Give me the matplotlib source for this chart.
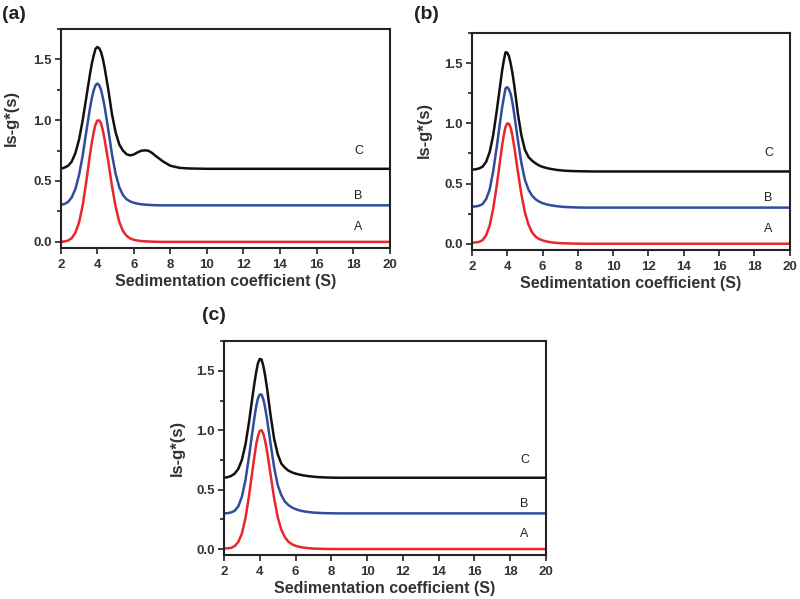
import matplotlib
matplotlib.use('Agg')
import matplotlib.pyplot as plt
from matplotlib.ticker import MultipleLocator

plt.rcParams['font.family'] = ['Liberation Sans', 'DejaVu Sans']

# sedimentation coefficient grid (S)
s = [2.0, 2.2, 2.4, 2.6, 2.8, 3.0, 3.2, 3.4, 3.6, 3.7, 3.8, 3.9, 4.0, 4.1, 4.2, 4.3, 4.4, 4.6, 4.8, 5.0,
     5.2, 5.4, 5.6, 5.8, 6.0, 6.2, 6.4, 6.6, 6.8, 7.0, 7.2, 7.6, 8.0, 8.5, 9.0, 10.0, 20.0]

# panel (a)
a_A = [0.0, 0.004, 0.011, 0.031, 0.076, 0.16, 0.30, 0.50, 0.72, 0.817, 0.90, 0.963, 0.996, 0.997, 0.975, 0.917, 0.84, 0.66, 0.46, 0.29,
       0.165, 0.09, 0.05, 0.028, 0.017, 0.011, 0.007, 0.005, 0.003, 0.002, 0.001, 0.0, 0.0, 0.0, 0.0, 0.0, 0.0]
a_B = [0.305, 0.311, 0.328, 0.366, 0.435, 0.55, 0.71, 0.91, 1.10, 1.182, 1.245, 1.286, 1.30, 1.287, 1.25, 1.185, 1.11, 0.92, 0.72, 0.56,
       0.45, 0.385, 0.35, 0.332, 0.321, 0.314, 0.309, 0.306, 0.304, 0.302, 0.301, 0.30, 0.30, 0.30, 0.30, 0.30, 0.30]
a_C = [0.60, 0.61, 0.625, 0.66, 0.73, 0.84, 1.00, 1.19, 1.38, 1.465, 1.53, 1.585, 1.60, 1.59, 1.56, 1.505, 1.43, 1.25, 1.05, 0.90,
       0.80, 0.75, 0.72, 0.71, 0.718, 0.735, 0.748, 0.752, 0.748, 0.73, 0.705, 0.66, 0.625, 0.608, 0.603, 0.60, 0.60]

# panel (b)
b_A = [0.01, 0.011, 0.015, 0.03, 0.07, 0.15, 0.29, 0.48, 0.70, 0.81, 0.90, 0.97, 1.0, 0.995, 0.96, 0.89, 0.80, 0.60, 0.41, 0.26,
       0.16, 0.095, 0.06, 0.04, 0.028, 0.02, 0.014, 0.01, 0.007, 0.005, 0.004, 0.002, 0.001, 0.0, 0.0, 0.0, 0.0]
b_B = [0.308, 0.31, 0.315, 0.33, 0.37, 0.45, 0.60, 0.80, 1.02, 1.125, 1.21, 1.29, 1.30, 1.28, 1.24, 1.165, 1.07, 0.86, 0.67, 0.53,
       0.45, 0.40, 0.37, 0.35, 0.337, 0.328, 0.321, 0.316, 0.312, 0.309, 0.306, 0.303, 0.301, 0.30, 0.30, 0.30, 0.30]
b_C = [0.615, 0.618, 0.625, 0.64, 0.68, 0.76, 0.90, 1.10, 1.32, 1.43, 1.52, 1.59, 1.585, 1.555, 1.49, 1.41, 1.31, 1.08, 0.90, 0.78,
       0.72, 0.69, 0.668, 0.65, 0.638, 0.63, 0.623, 0.618, 0.613, 0.61, 0.607, 0.604, 0.602, 0.601, 0.60, 0.60, 0.60]

# panel (c)
c_A = [0.005, 0.006, 0.01, 0.025, 0.06, 0.13, 0.26, 0.45, 0.67, 0.78, 0.88, 0.95, 0.995, 1.0, 0.97, 0.91, 0.83, 0.63, 0.43, 0.27,
       0.165, 0.10, 0.062, 0.04, 0.027, 0.019, 0.013, 0.009, 0.006, 0.004, 0.003, 0.001, 0.0, 0.0, 0.0, 0.0, 0.0]
c_B = [0.30, 0.302, 0.308, 0.322, 0.36, 0.44, 0.58, 0.78, 1.00, 1.105, 1.20, 1.27, 1.30, 1.30, 1.26, 1.19, 1.10, 0.89, 0.69, 0.54,
       0.455, 0.40, 0.37, 0.35, 0.336, 0.326, 0.319, 0.314, 0.31, 0.307, 0.305, 0.302, 0.301, 0.30, 0.30, 0.30, 0.30]
c_C = [0.60, 0.605, 0.615, 0.635, 0.675, 0.75, 0.88, 1.07, 1.29, 1.395, 1.49, 1.565, 1.60, 1.595, 1.54, 1.46, 1.36, 1.13, 0.93, 0.80,
       0.72, 0.685, 0.66, 0.645, 0.635, 0.627, 0.621, 0.616, 0.612, 0.609, 0.606, 0.603, 0.601, 0.60, 0.60, 0.60, 0.60]

curve_names = ['A', 'B', 'C']
label_y = [0.125, 0.38, 0.75]
colors = ['#e8262b', '#2e4d9c', '#111111']

panels = [
    ('(a)', [a_A, a_B, a_C], [0.076, 0.586, 0.411, 0.366], (0.002, 0.99), 18.3, (-0.128, 0.594)),
    ('(b)', [b_A, b_B, b_C], [0.590, 0.583, 0.397, 0.362], (0.518, 0.99), 18.8, (-0.126, 0.553)),
    ('(c)', [c_A, c_B, c_C], [0.280, 0.0735, 0.4025, 0.357], (0.252, 0.487), 18.8, (-0.123, 0.5)),
]

fig = plt.figure(figsize=(8.0, 5.99), dpi=100)

for tag, series, rect, tagpos, lx, ylab_pos in panels:
    ax = fig.add_axes(rect)
    for ys, col in zip(series, colors):
        ax.plot(s, ys, color=col, lw=1.8, solid_joinstyle='round')
    for name, yy in zip(curve_names, label_y):
        ax.text(lx, yy, name, ha='center', va='center', fontsize=9, color='#222222')
    ax.set_xlim(2, 20)
    ax.set_ylim(-0.05, 1.75)
    ax.set_xticks(range(2, 21, 2))
    ax.set_yticks([0.0, 0.5, 1.0, 1.5])
    ax.set_yticklabels(['0.0', '0.5', '1.0', '1.5'])
    ax.yaxis.set_minor_locator(MultipleLocator(0.25))
    ax.tick_params(which='both', direction='out', top=False, right=False, width=1.2, color='#222222')
    ax.tick_params(which='major', length=4, labelsize=9.5)
    ax.tick_params(axis='x', which='major', pad=4)
    ax.tick_params(axis='y', which='major', pad=2.5)
    ax.tick_params(which='minor', length=3)
    for lab in ax.get_xticklabels() + ax.get_yticklabels():
        lab.set_fontweight('bold')
        lab.set_color('#333333')
    for sp in ax.spines.values():
        sp.set_linewidth(1.5)
        sp.set_color('#222222')
    ax.set_xlabel('Sedimentation coefficient (S)', fontsize=11.5, fontweight='bold', color='#333333', labelpad=2)
    ax.set_ylabel('ls-g*(s)', fontsize=12, fontweight='bold', color='#333333')
    ax.yaxis.set_label_coords(ylab_pos[0], ylab_pos[1])
    fig.text(tagpos[0], tagpos[1], tag, fontsize=14, fontweight='bold', ha='left', va='top', color='#222222')

fig.savefig('out.png', dpi=100)
